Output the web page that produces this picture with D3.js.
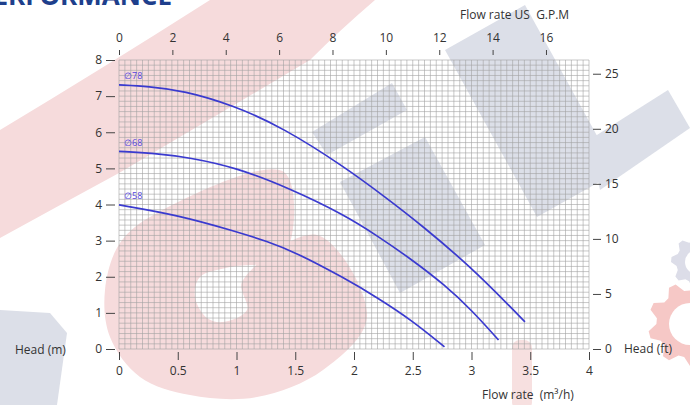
<!DOCTYPE html>
<html><head><meta charset="utf-8">
<script src="https://cdn.jsdelivr.net/npm/d3@7"></script>
<style>
body{margin:0;background:#fff}
svg{display:block}
text{font-family:"Open Sans",sans-serif}
</style>
</head><body>
<svg id="chart" width="690" height="405"></svg>
<script>
// ---- data ----
const flowTicks = [0, 0.5, 1, 1.5, 2, 2.5, 3, 3.5, 4];      // m3/h
const headTicks = [0, 1, 2, 3, 4, 5, 6, 7, 8];              // m
const gpmTicks  = [0, 2, 4, 6, 8, 10, 12, 14, 16];          // US GPM
const ftTicks   = [0, 5, 10, 15, 20, 25];                   // ft
const curveNames = ["\u220578", "\u220568", "\u220558"];
const q78 = [0, 0.25, 0.55, 0.97, 1.40, 1.92, 2.26, 2.59, 2.99, 3.33, 3.455];
const h78 = [7.31, 7.27, 7.15, 6.75, 6.12, 5.04, 4.22, 3.39, 2.28, 1.17, 0.75];
const q68 = [0, 0.3, 0.6, 1.0, 1.45, 1.92, 2.2, 2.49, 2.77, 3.0, 3.23];
const h68 = [5.47, 5.42, 5.30, 5.02, 4.45, 3.71, 3.13, 2.48, 1.78, 1.08, 0.25];
const q58 = [0, 0.5, 1.0, 1.26, 1.5, 1.92, 2.2, 2.49, 2.77];
const h58 = [3.99, 3.71, 3.25, 2.98, 2.68, 1.96, 1.42, 0.80, 0.06];
const GPM_PER_M3H = 4.403;
const M_PER_FT = 0.3048;

// ---- layout ----
const svg = d3.select("#chart");
const W = 690, H = 405;
const x = d3.scaleLinear().domain([0, 4]).range([119, 589]);
const y = d3.scaleLinear().domain([0, 8]).range([349, 60]);
const xG = d3.scaleLinear().domain([0, 4 * GPM_PER_M3H]).range([119, 589]);
const yF = d3.scaleLinear().domain([0, 8 / M_PER_FT]).range([349, 60]);

svg.append("rect").attr("width", W).attr("height", H).attr("fill", "#fff");

// ---- faint background watermark (decoration) ----
const deco = svg.append("g");
const pink = "#f6dbdc", grey = "#dcdfe8";
deco.append("path").attr("fill", pink)
  .attr("d", "M0,130 Q100,70 210,0 L375,0 Q340,30 310,60 L119,173 Q60,205 0,238 Z");
const gShape = [[284,172],[284,256],[230,267],[200,277],[195,297],[207,318],[223,322],[247,310],[242,282],[317,235],[367,317],[323,370],[257,397],[190,395],[140,377],[110,337],[105,290],[120,243],[157,213]];
deco.append("path").attr("fill", pink)
  .attr("d", d3.line().curve(d3.curveCatmullRomClosed.alpha(0.5))(gShape));
const greyPolys = [
  [[312,132],[392,83],[407,110],[327,155]],
  [[340,182],[425,137],[485,245],[400,293]],
  [[445,50],[525,5],[617,172],[537,217]],
  [[589,140],[668,90],[690,128],[600,190]],
  [[0,310],[50,313],[67,333],[57,405],[0,405]]
];
greyPolys.forEach(p => deco.append("path").attr("fill", grey)
  .attr("d", d3.line().curve(d3.curveLinearClosed)(p)));
deco.append("rect").attr("x", 512).attr("y", 340).attr("width", 20).attr("height", 70)
  .attr("rx", 8).attr("fill", "#f7e0e0");
function gear(cx, cy, r, teeth, hole, fill) {
  const pts = [];
  for (let i = 0; i < teeth * 4; i++) {
    const a = i / (teeth * 4) * 2 * Math.PI;
    const rr = (i % 4 < 2) ? r : r * 0.8;
    pts.push([cx + rr * Math.cos(a), cy + rr * Math.sin(a)]);
  }
  deco.append("path").attr("fill", fill).attr("d", d3.line().curve(d3.curveLinearClosed)(pts));
  deco.append("circle").attr("cx", cx).attr("cy", cy).attr("r", hole).attr("fill", "#fff");
}
gear(697, 262, 26, 8, 12, "#dcdde8");
gear(690, 324, 42, 9, 21, "#f6c8c6");

// ---- grid ----
const grid = svg.append("g").attr("stroke", "#a3a3a3").attr("stroke-width", 0.6);
d3.range(0, 81).forEach(i => grid.append("line")
  .attr("x1", x(i * 0.05)).attr("x2", x(i * 0.05)).attr("y1", y(0)).attr("y2", y(8)));
d3.range(0, 57).forEach(i => grid.append("line")
  .attr("y1", y(i / 7)).attr("y2", y(i / 7)).attr("x1", x(0)).attr("x2", x(4)));

// ---- curves ----
const series = [
  {name: curveNames[0], q: q78, h: h78},
  {name: curveNames[1], q: q68, h: h68},
  {name: curveNames[2], q: q58, h: h58}
];
const line = d3.line().x(d => x(d[0])).y(d => y(d[1])).curve(d3.curveBasis);
series.forEach(s => {
  const pts = s.q.map((q, i) => [q, s.h[i]]);
  svg.append("path").attr("d", line(pts)).attr("fill", "none")
    .attr("stroke", "#3a3acf").attr("stroke-width", 1.7);
  svg.append("text").attr("x", x(0) + 5).attr("y", y(s.h[0]) - 5.5)
    .attr("font-size", 9).attr("fill", "#5346de").text(s.name);
});

// ---- axes ----
function style(g) {
  g.select(".domain").remove();
  g.selectAll(".tick line").attr("stroke", "#444").attr("stroke-width", 1);
  g.selectAll(".tick text").attr("fill", "#333").attr("font-size", 12)
    .attr("font-family", "'Open Sans',sans-serif");
}
svg.append("g").attr("transform", "translate(115,0)")
  .call(d3.axisLeft(y).tickValues(headTicks).tickSize(9).tickPadding(4).tickFormat(d3.format("d")))
  .call(style);
svg.append("g").attr("transform", "translate(593,0)")
  .call(d3.axisRight(yF).tickValues(ftTicks).tickSize(8).tickPadding(4).tickFormat(d3.format("d")))
  .call(style);
svg.append("g").attr("transform", "translate(0,352)")
  .call(d3.axisBottom(x).tickValues(flowTicks).tickSize(8).tickPadding(6).tickFormat(d3.format("~g")))
  .call(style);
svg.append("g").attr("transform", "translate(0,55)")
  .call(d3.axisTop(xG).tickValues(gpmTicks).tickSize(5).tickPadding(8).tickFormat(d3.format("d")))
  .call(style);

// ---- axis titles ----
const lab = (tx, ty, t, anchor) => svg.append("text").attr("x", tx).attr("y", ty)
  .attr("font-size", 12).attr("fill", "#333").attr("text-anchor", anchor || "start").text(t);
lab(15, 354, "Head (m)");
lab(624, 353, "Head (ft)");
lab(482, 399, "Flow rate\u00a0 (m\u00b3/h)");
lab(460, 19, "Flow rate US\u00a0 G.P.M");

// ---- clipped page heading ----
svg.append("text").attr("x", 172).attr("y", 5).attr("text-anchor", "end")
  .attr("font-size", 26).attr("font-weight", 700).attr("fill", "#1e3f8c")
  .text("PERFORMANCE");
</script>
</body></html>
